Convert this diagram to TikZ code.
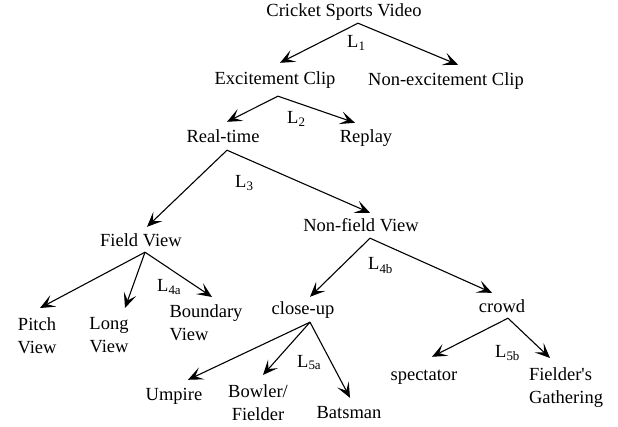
\documentclass[tikz,border=0pt]{standalone}
\usepackage{fontspec}
\setmainfont{Liberation Serif}
\usetikzlibrary{arrows.meta}

\tikzset{
  lab/.style={inner sep=0pt, font=\fontsize{18.5}{23.5}\selectfont, text height=13pt, text depth=4pt, anchor=base},
  lab2/.style={inner sep=0pt, font=\fontsize{18.5}{23.5}\selectfont, align=center, anchor=north},
  lvl/.style={inner sep=0pt, font=\fontsize{18.5}{23.5}\selectfont, anchor=base west},
  arr/.style={line width=1.1pt, -{Stealth[length=15pt, width=13pt, inset=7pt]}}
}

\begin{document}
\begin{tikzpicture}[x=1pt, y=-1pt]
  \useasboundingbox (0,0) rectangle (618,427);

  % tree nodes
  \node[lab] (video)    at (344, 17)  {Cricket Sports Video};
  \node[lab] (exc)      at (275, 85)  {Excitement Clip};
  \node[lab] (nonexc)   at (446, 86)  {Non-excitement Clip};
  \node[lab] (realtime) at (223, 143) {Real-time};
  \node[lab] (replay)   at (366, 143) {Replay};
  \node[lab] (field)    at (141, 247) {Field View};
  \node[lab] (nonfield) at (361, 232) {Non-field View};
  \node[lab2] (pitch)   at (37, 317)  {Pitch\\View};
  \node[lab2] (long)    at (109, 317) {Long\\View};
  \node[lab2, align=left] (boundary) at (206, 304) {Boundary\\ View};
  \node[lab] (closeup)  at (303, 315) {close-up};
  \node[lab] (crowd)    at (502, 313) {crowd};
  \node[lab] (umpire)   at (174, 400) {Umpire};
  \node[lab2] (bowler)  at (258, 384) {Bowler/\\Fielder};
  \node[lab] (batsman)  at (349, 418) {Batsman};
  \node[lab] (spect)    at (424, 380) {spectator};
  \node[lab2, align=left] (gather) at (566, 367) {Fielder\textquotesingle s\\Gathering};

  % level labels
  \node[lvl] (l1)  at (347, 48)  {L\textsubscript{1}};
  \node[lvl] (l2)  at (287, 124) {L\textsubscript{2}};
  \node[lvl] (l3)  at (235, 188) {L\textsubscript{3}};
  \node[lvl] (l4a) at (157, 292) {L\textsubscript{4a}};
  \node[lvl] (l4b) at (368, 270) {L\textsubscript{4b}};
  \node[lvl] (l5a) at (297, 367) {L\textsubscript{5a}};
  \node[lvl] (l5b) at (495, 357) {L\textsubscript{5b}};

  % connectors
  \draw[arr] ([xshift=14pt, yshift=-2pt]video.south) -- ([xshift=5pt, yshift=9pt]exc.north);
  \draw[arr] ([xshift=14pt, yshift=-2pt]video.south) -- ([xshift=12pt, yshift=8pt]nonexc.north);

  \draw[arr] ([xshift=3pt, yshift=-7pt]exc.south) -- ([xshift=4pt, yshift=8pt]realtime.north);
  \draw[arr] ([xshift=3pt, yshift=-7pt]exc.south) -- ([xshift=-11pt, yshift=7pt]replay.north);

  \draw[arr] ([xshift=4pt, yshift=-3pt]realtime.south) -- ([xshift=6pt, yshift=7pt]field.north);
  \draw[arr] ([xshift=4pt, yshift=-3pt]realtime.south) -- ([xshift=9pt, yshift=6pt]nonfield.north);

  \draw[arr] ([xshift=4pt, yshift=-1pt]field.south) -- ([xshift=3pt, yshift=9pt]pitch.north);
  \draw[arr] ([xshift=4pt, yshift=-1pt]field.south) -- ([xshift=16pt, yshift=9pt]long.north);
  \draw[arr] ([xshift=4pt, yshift=-1pt]field.south) -- ([xshift=6pt, yshift=7pt]boundary.north);

  \draw[arr] ([xshift=9pt, yshift=-2pt]nonfield.south) -- ([xshift=7pt, yshift=5pt]closeup.north);
  \draw[arr] ([xshift=9pt, yshift=-2pt]nonfield.south) -- ([xshift=-10pt, yshift=7pt]crowd.north);

  \draw[arr] ([xshift=7pt, yshift=-3pt]closeup.south) -- ([xshift=14pt, yshift=7pt]umpire.north);
  \draw[arr] ([xshift=7pt, yshift=-3pt]closeup.south) -- ([xshift=5pt, yshift=9pt]bowler.north);
  \draw[arr] ([xshift=7pt, yshift=-3pt]closeup.south) -- ([xshift=1pt, yshift=7pt]batsman.north);

  \draw[arr] ([xshift=6pt, yshift=-1pt]crowd.south) -- ([xshift=8pt, yshift=10pt]spect.north);
  \draw[arr] ([xshift=6pt, yshift=-1pt]crowd.south) -- ([xshift=-16pt, yshift=9pt]gather.north);
\end{tikzpicture}
\end{document}
